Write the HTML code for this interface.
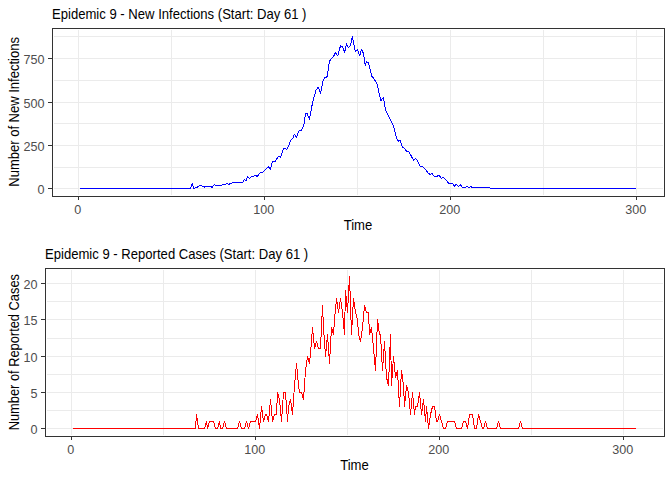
<!DOCTYPE html>
<html><head><meta charset="utf-8"><style>
html,body{margin:0;padding:0;background:#fff;width:672px;height:480px;overflow:hidden}
svg{display:block}
text{font-family:"Liberation Sans",sans-serif}
.tt{font-size:14.55px;fill:#000}
.at{font-size:14.55px;fill:#000}
.tl{font-size:12.6px;fill:#4d4d4d}
.gM{stroke:#ebebeb;stroke-width:1}
.gm{stroke:#ebebeb;stroke-width:1}
.bd{fill:none;stroke:#333333;stroke-width:1}
.tk{stroke:#333333;stroke-width:1}
.ln{fill:none;stroke-width:1;stroke-linejoin:round;stroke-linecap:butt;shape-rendering:crispEdges}
</style></head><body>
<svg width="672" height="480" viewBox="0 0 672 480">
<rect width="672" height="480" fill="#fff"/>
<line x1="171.5" y1="30" x2="171.5" y2="195" class="gm"/>
<line x1="357.5" y1="30" x2="357.5" y2="195" class="gm"/>
<line x1="543.5" y1="30" x2="543.5" y2="195" class="gm"/>
<line x1="54" y1="167.5" x2="663" y2="167.5" class="gm"/>
<line x1="54" y1="123.5" x2="663" y2="123.5" class="gm"/>
<line x1="54" y1="80.5" x2="663" y2="80.5" class="gm"/>
<line x1="54" y1="36.5" x2="663" y2="36.5" class="gm"/>
<line x1="78.5" y1="30" x2="78.5" y2="195" class="gM"/>
<line x1="264.5" y1="30" x2="264.5" y2="195" class="gM"/>
<line x1="450.5" y1="30" x2="450.5" y2="195" class="gM"/>
<line x1="636.5" y1="30" x2="636.5" y2="195" class="gM"/>
<line x1="54" y1="188.5" x2="663" y2="188.5" class="gM"/>
<line x1="54" y1="145.5" x2="663" y2="145.5" class="gM"/>
<line x1="54" y1="102.5" x2="663" y2="102.5" class="gM"/>
<line x1="54" y1="58.5" x2="663" y2="58.5" class="gM"/>
<path d="M79.9,188.5 L190.3,188.5 L192.5,183.4 L193.4,188.4 L197.4,187.2 L199.5,185.4 L203.2,186.3 L205,187.2 L206.8,186.3 L210.4,186.3 L212.1,187.5 L214.4,184.3 L215.7,185.4 L221,185.4 L222.9,184.3 L225.5,184.3 L226.9,183.4 L228.7,184.3 L231.3,183.4 L232.7,182.3 L242.8,182.2 L244.3,179.4 L246.1,181.1 L247.5,176.5 L249.5,178.5 L251.6,176.25 L253.7,176.25 L255.1,175.2 L257.4,176.5 L260.5,172.3 L262.6,172.3 L268.3,166.6 L270.4,169.4 L272.5,161.4 L275.1,161.4 L278.2,156.7 L280.8,157.2 L283.4,148.3 L285.4,148.5 L286.8,149.3 L288.8,145.6 L290.6,140.1 L292.9,138.1 L294.2,134 L296.3,137.4 L299,130.7 L301.7,130 L303.7,125.9 L305.5,113.7 L307.1,113.7 L309.5,119.1 L312.5,102.9 L313.9,97.5 L316.1,89.9 L318.4,87.2 L320.6,93.3 L322.9,81.1 L324.6,77.7 L327.3,76.7 L328.7,65.5 L330.3,59.4 L333.3,57 L335.5,52.6 L337.8,56 L340.5,45.6 L342.5,46.9 L344.6,52.3 L346.6,43.8 L348.6,47.9 L350.7,44.8 L352.5,36.3 L353.4,42.2 L355.4,51.8 L357.5,49.6 L359.6,56 L361.5,49.6 L363.6,53.7 L365.2,65.9 L366.5,61.8 L368.7,63.2 L371.7,76.1 L373.7,78.1 L377.3,84.5 L380.8,101 L383.3,97.6 L384.2,101.7 L385.6,110.5 L388.3,115.9 L392.4,123.4 L394.4,128.8 L396.4,138.3 L398.5,141.1 L400.1,140.4 L402.25,146.9 L404.4,148.1 L406.5,151.25 L408.75,151.9 L411,155.6 L413.5,160.25 L415.6,158.5 L417.5,160.6 L420,166.25 L422.25,166.5 L425,168.75 L427.75,172.5 L429.75,174.4 L431.9,173.5 L434.4,176.25 L436.9,176.25 L439,175.25 L441.4,178.2 L443.1,177.3 L445.4,179.3 L447.1,180.9 L448.5,183.3 L452.5,183.3 L454.3,186.4 L456.25,184.2 L458.3,186.4 L460.4,184.5 L462.3,187.5 L465.4,187.5 L466.8,186.4 L468.75,187.5 L470.8,186.4 L472.1,187.5 L489.6,187.5 L490.4,188.5 L636,188.5" class="ln" stroke="#0000ff"/>
<rect x="52.5" y="28.5" width="612" height="168" class="bd"/>
<line x1="78.5" y1="197" x2="78.5" y2="200" class="tk"/>
<text x="77.7" y="214" class="tl" text-anchor="middle">0</text>
<line x1="264.5" y1="197" x2="264.5" y2="200" class="tk"/>
<text x="263.7" y="214" class="tl" text-anchor="middle">100</text>
<line x1="450.5" y1="197" x2="450.5" y2="200" class="tk"/>
<text x="449.7" y="214" class="tl" text-anchor="middle">200</text>
<line x1="636.5" y1="197" x2="636.5" y2="200" class="tk"/>
<text x="635.7" y="214" class="tl" text-anchor="middle">300</text>
<line x1="48" y1="188.5" x2="52" y2="188.5" class="tk"/>
<text x="44.5" y="194" class="tl" text-anchor="end">0</text>
<line x1="48" y1="145.5" x2="52" y2="145.5" class="tk"/>
<text x="44.5" y="151" class="tl" text-anchor="end">250</text>
<line x1="48" y1="102.5" x2="52" y2="102.5" class="tk"/>
<text x="44.5" y="108" class="tl" text-anchor="end">500</text>
<line x1="48" y1="58.5" x2="52" y2="58.5" class="tk"/>
<text x="44.5" y="64" class="tl" text-anchor="end">750</text>
<text transform="translate(52,19) scale(0.9,1)" class="tt">Epidemic 9 - New Infections (Start: Day 61 )</text>
<text transform="translate(358,230) scale(0.9,1)" class="at" text-anchor="middle">Time</text>
<text transform="translate(18.5,111.9) rotate(-90) scale(0.894,1)" class="at" text-anchor="middle">Number of New Infections</text>
<line x1="163.5" y1="270" x2="163.5" y2="435" class="gm"/>
<line x1="347.5" y1="270" x2="347.5" y2="435" class="gm"/>
<line x1="531.5" y1="270" x2="531.5" y2="435" class="gm"/>
<line x1="47" y1="410.5" x2="663" y2="410.5" class="gm"/>
<line x1="47" y1="374.5" x2="663" y2="374.5" class="gm"/>
<line x1="47" y1="338.5" x2="663" y2="338.5" class="gm"/>
<line x1="47" y1="301.5" x2="663" y2="301.5" class="gm"/>
<line x1="71.5" y1="270" x2="71.5" y2="435" class="gM"/>
<line x1="255.5" y1="270" x2="255.5" y2="435" class="gM"/>
<line x1="439.5" y1="270" x2="439.5" y2="435" class="gM"/>
<line x1="623.5" y1="270" x2="623.5" y2="435" class="gM"/>
<line x1="47" y1="428.5" x2="663" y2="428.5" class="gM"/>
<line x1="47" y1="392.5" x2="663" y2="392.5" class="gM"/>
<line x1="47" y1="356.5" x2="663" y2="356.5" class="gM"/>
<line x1="47" y1="319.5" x2="663" y2="319.5" class="gM"/>
<line x1="47" y1="283.5" x2="663" y2="283.5" class="gM"/>
<path d="M73,428.5 L195.5,428.5 L196.5,414.5 L198.5,428.5 L204.5,428.5 L206.5,421.5 L207.5,428.5 L209.5,421.5 L213.5,421.5 L215.5,428.5 L217.5,428.5 L219.5,421.5 L220.5,428.5 L222.5,428.5 L224.5,421.5 L226.5,428.5 L237.5,428.5 L239.5,421.5 L241.5,428.5 L244.5,428.5 L246.5,421.5 L248.5,428.5 L250.5,421.5 L255.5,421.5 L257.5,414.5 L259.5,428.5 L261.5,406.5 L263.5,421.5 L265.5,414.5 L266.5,414.5 L268.5,421.5 L270.5,399.5 L272.5,421.5 L274.5,414.5 L276.5,414.5 L277.5,392.5 L279.5,399.5 L281.5,421.5 L283.5,392.5 L285.5,392.5 L287.5,421.5 L288.5,406.5 L290.5,399.5 L292.5,414.5 L294.5,385.5 L296.5,363.5 L298.5,385.5 L299.5,392.5 L301.5,392.5 L303.5,399.5 L305.5,370.5 L307.5,356.5 L309.5,363.5 L311.5,341.5 L312.5,327.5 L314.5,348.5 L316.5,341.5 L318.5,348.5 L320.5,348.5 L322.5,305.5 L323.5,327.5 L325.5,356.5 L327.5,334.5 L329.5,363.5 L331.5,327.5 L333.5,334.5 L334.5,319.5 L336.5,298.5 L338.5,312.5 L340.5,298.5 L342.5,312.5 L344.5,334.5 L345.5,290.5 L347.5,312.5 L349.5,276.5 L351.5,334.5 L353.5,298.5 L355.5,312.5 L357.5,319.5 L358.5,334.5 L360.5,341.5 L362.5,327.5 L364.5,305.5 L366.5,312.5 L368.5,312.5 L369.5,334.5 L371.5,327.5 L373.5,348.5 L375.5,370.5 L377.5,319.5 L379.5,334.5 L380.5,334.5 L382.5,370.5 L384.5,341.5 L386.5,377.5 L388.5,385.5 L390.5,334.5 L391.5,385.5 L393.5,356.5 L395.5,377.5 L397.5,370.5 L399.5,406.5 L401.5,370.5 L403.5,385.5 L404.5,406.5 L406.5,385.5 L408.5,392.5 L410.5,414.5 L412.5,392.5 L414.5,414.5 L415.5,406.5 L417.5,406.5 L419.5,392.5 L421.5,414.5 L423.5,399.5 L425.5,421.5 L426.5,406.5 L428.5,428.5 L430.5,414.5 L432.5,406.5 L434.5,406.5 L436.5,421.5 L437.5,421.5 L439.5,414.5 L441.5,421.5 L443.5,428.5 L445.5,428.5 L447.5,421.5 L454.5,421.5 L456.5,428.5 L461.5,428.5 L463.5,421.5 L465.5,421.5 L467.5,428.5 L469.5,414.5 L472.5,414.5 L474.5,428.5 L476.5,428.5 L478.5,414.5 L480.5,421.5 L482.5,428.5 L483.5,428.5 L485.5,421.5 L487.5,428.5 L496.5,428.5 L498.5,421.5 L500.5,428.5 L518.5,428.5 L520.5,421.5 L522.5,428.5 L636,428.5" class="ln" stroke="#ff0000"/>
<rect x="45.5" y="268.5" width="619" height="168" class="bd"/>
<line x1="71.5" y1="437" x2="71.5" y2="440" class="tk"/>
<text x="70.7" y="454" class="tl" text-anchor="middle">0</text>
<line x1="255.5" y1="437" x2="255.5" y2="440" class="tk"/>
<text x="254.7" y="454" class="tl" text-anchor="middle">100</text>
<line x1="439.5" y1="437" x2="439.5" y2="440" class="tk"/>
<text x="438.7" y="454" class="tl" text-anchor="middle">200</text>
<line x1="623.5" y1="437" x2="623.5" y2="440" class="tk"/>
<text x="622.7" y="454" class="tl" text-anchor="middle">300</text>
<line x1="41" y1="428.5" x2="45" y2="428.5" class="tk"/>
<text x="37.5" y="434" class="tl" text-anchor="end">0</text>
<line x1="41" y1="392.5" x2="45" y2="392.5" class="tk"/>
<text x="37.5" y="398" class="tl" text-anchor="end">5</text>
<line x1="41" y1="356.5" x2="45" y2="356.5" class="tk"/>
<text x="37.5" y="362" class="tl" text-anchor="end">10</text>
<line x1="41" y1="319.5" x2="45" y2="319.5" class="tk"/>
<text x="37.5" y="325" class="tl" text-anchor="end">15</text>
<line x1="41" y1="283.5" x2="45" y2="283.5" class="tk"/>
<text x="37.5" y="289" class="tl" text-anchor="end">20</text>
<text transform="translate(45,259) scale(0.9,1)" class="tt">Epidemic 9 - Reported Cases (Start: Day 61 )</text>
<text transform="translate(354.5,470) scale(0.9,1)" class="at" text-anchor="middle">Time</text>
<text transform="translate(18.5,352.2) rotate(-90) scale(0.883,1)" class="at" text-anchor="middle">Number of Reported Cases</text>
</svg>
</body></html>
